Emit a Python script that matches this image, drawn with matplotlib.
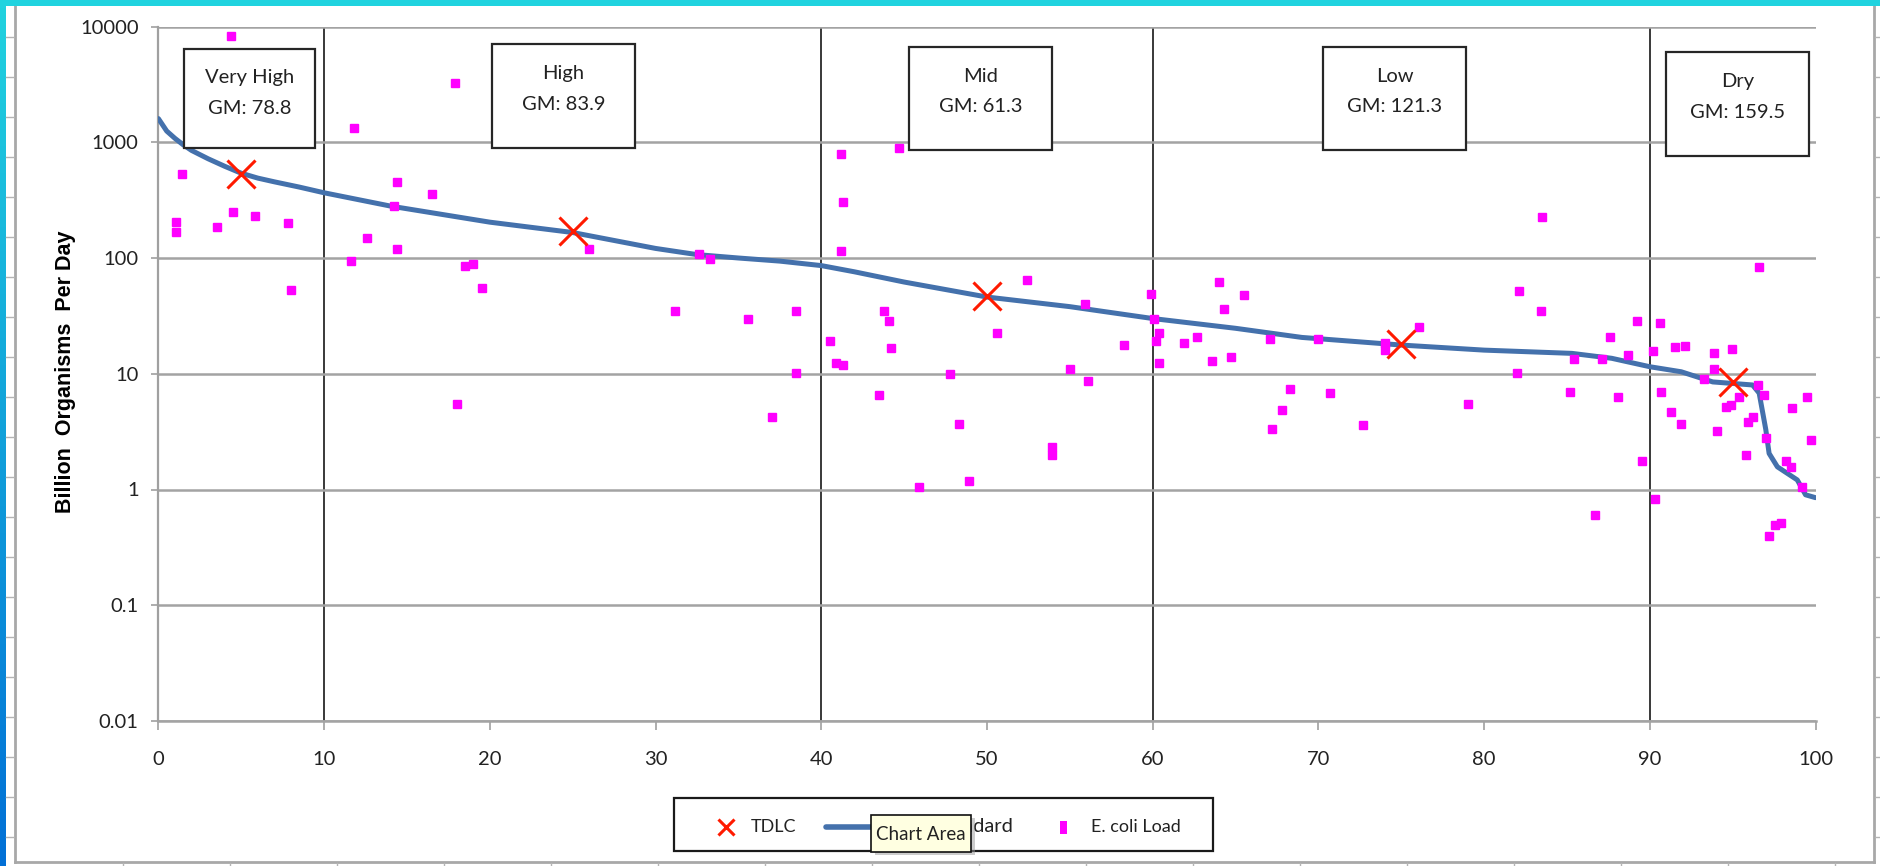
import matplotlib
matplotlib.use("Agg")
import matplotlib.pyplot as plt
import numpy as np
from matplotlib.patches import Rectangle
from matplotlib.lines import Line2D

plt.rcParams['font.family'] = ['Lato', 'DejaVu Sans']

W, H = 1881, 866

# --- values ---
curve_pct = [0, 0.2, 0.5, 1, 1.5, 2, 3, 4, 5, 6, 7, 8.5, 10, 14, 20, 25, 30, 32.5, 35, 37.5,
             40, 42, 45, 50, 55, 60, 65, 69, 75, 80, 85.3, 87.7, 90, 91.9, 93.8, 96.2,
             96.6, 97.0, 97.2, 97.7, 98.9, 99.4, 100]
curve_load = [1600, 1450, 1250, 1080, 950, 850, 720, 620, 540, 490, 455, 410, 366, 281, 204, 166,
              121, 107, 100, 94, 86, 76, 62, 46, 38, 30, 24.7, 20.6, 17.7, 16.0, 15.0, 13.6,
              11.5, 10.4, 8.5, 8.0, 6.8, 3.3, 2.05, 1.57, 1.21, 0.9, 0.85]

tdlc_pct = [5, 25, 50, 75, 95]
tdlc_load = [530, 170, 47, 18, 8.5]

ecoli_pct = [4.4, 1.45, 1.05, 1.05, 3.55, 4.5, 5.8, 7.8, 8.0,
             11.8, 17.9, 14.4, 16.5, 14.2, 12.6, 14.4, 11.6, 26.0, 18.5, 19.0, 19.5, 18.0,
             32.6, 33.3, 31.2, 35.6, 38.5, 38.5, 37.0,
             40.5, 40.9, 41.3, 41.2, 41.3, 41.2, 44.7, 43.8, 44.1, 44.2, 43.5, 47.8, 48.3,
             45.9, 48.9, 52.4, 50.6, 55.9, 58.3, 55.0, 56.1, 53.9, 53.9, 59.9,
             60.1, 60.4, 60.2, 60.4, 61.9, 62.7, 63.6, 64.0, 65.5, 64.3, 64.7, 67.1, 68.3,
             67.8, 67.2, 70.0, 70.7, 72.7, 74.0, 74.0, 76.05, 79.0, 82.1, 83.45, 82.0,
             85.2, 85.4, 86.7, 87.1, 87.6, 88.1, 88.7, 89.2, 89.5, 83.5,
             90.2, 90.6, 90.3, 90.7, 91.3, 91.5, 92.1, 91.9, 93.25, 93.9, 93.9, 94.05,
             94.95, 94.6, 94.9, 95.4, 95.8, 95.9, 96.2, 96.5, 96.9, 96.6, 97.0, 97.2,
             97.55, 97.9, 98.2, 98.5, 98.6, 99.2, 99.5, 99.7]
ecoli_load = [8270, 530, 205, 168, 185, 250, 232, 200, 53,
              1340, 3240, 457, 360, 283, 150, 119, 95, 119, 85, 88, 55, 5.5,
              108, 99, 35, 30, 35, 10.2, 4.2,
              19, 12.3, 11.8, 790, 307, 114, 890, 35, 28.6, 16.8, 6.5, 10, 3.7,
              1.05, 1.18, 64, 22.6, 40, 17.7, 11, 8.7, 2.0, 2.35, 48.6,
              29.7, 22.7, 19.3, 12.3, 18.4, 20.7, 12.9, 62, 48, 36, 14, 20, 7.4,
              4.9, 3.3, 20, 6.8, 3.6, 18.4, 16.1, 25.3, 5.5, 52, 35, 10.1,
              7.0, 13.3, 0.6, 13.3, 20.7, 6.3, 14.5, 28.6, 1.75, 225,
              15.7, 27.5, 0.83, 7.0, 4.7, 16.9, 17.5, 3.7, 9.0, 15, 11, 3.2,
              16.4, 5.2, 5.4, 6.3, 2.0, 3.86, 4.2, 8.0, 6.5, 84, 2.8, 0.40,
              0.49, 0.51, 1.75, 1.57, 5.1, 1.06, 6.3, 2.7]

zone_bounds = [10, 40, 60, 90]
zone_names = ["Very High", "High", "Mid", "Low", "Dry"]
zone_gm = [78.8, 83.9, 61.3, 121.3, 159.5]

y_ticks = [0.01, 0.1, 1, 10, 100, 1000, 10000]
y_tick_labels = ["0.01", "0.1", "1", "10", "100", "1000", "10000"]
x_ticks = list(range(0, 101, 10))

# zone label boxes in screen pixels: left, right, top, bottom
zone_boxes = [(184, 315, 49, 148), (492, 635, 44, 148), (909, 1052, 47, 150),
              (1323, 1466, 47, 150), (1666, 1809, 52, 156)]

RED = '#ff1a00'
BLUE = '#4471ac'
MAGENTA = '#ff00ff'


def fx(x):
    return x / W


def fy(y):
    return 1 - y / H


fig = plt.figure(figsize=(W / 100, H / 100), dpi=100)
fig.patch.set_facecolor('white')

# axes placement
ax_l, ax_r, ax_t, ax_b = 158.4, 1815.5, 26.5, 721
ax = fig.add_axes([fx(ax_l), fy(ax_b), (ax_r - ax_l) / W, (ax_b - ax_t) / H])
ax.set_yscale('log')
ax.set_xlim(0, 100)
ax.set_ylim(0.01, 10000)

ax.grid(axis='y', which='major', color='#a3a3a3', lw=1.8, zorder=0)
ax.grid(axis='x', visible=False)
for b in zone_bounds:
    ax.axvline(b, color='#2a2a2a', lw=1.3, zorder=1)

ax.plot(curve_pct, curve_load, color=BLUE, lw=3.6, zorder=3, solid_capstyle='round')
ax.plot(ecoli_pct, ecoli_load, ls='none', marker='s', ms=6.0, mfc=MAGENTA, mec=MAGENTA,
        zorder=4)
ax.plot(tdlc_pct, tdlc_load, ls='none', marker='x', ms=20, mew=2.2, color=RED, zorder=5)

ax.set_yticks(y_ticks)
ax.set_yticklabels(y_tick_labels)
ax.yaxis.set_minor_locator(matplotlib.ticker.NullLocator())
ax.set_xticks(x_ticks)
ax.tick_params(axis='y', length=4.8, width=1.2, color='#a0a0a0', pad=9.5, labelsize=14.5,
               labelcolor='#222222')
ax.tick_params(axis='x', length=6.5, width=1.2, color='#a0a0a0', pad=15, labelsize=14.5,
               labelcolor='#222222')
for s in ['top', 'right']:
    ax.spines[s].set_visible(False)
ax.spines['left'].set_color('#a0a0a0')
ax.spines['left'].set_linewidth(1.6)
ax.spines['bottom'].set_color('#a3a3a3')
ax.spines['bottom'].set_linewidth(1.8)

fig.text(fx(66), fy(372), 'Billion  Organisms  Per Day', rotation=90, ha='center',
         va='center', fontsize=15.5, fontweight='bold', family='Liberation Sans')

# zone label boxes
for (l, r, t, btm), name, gm in zip(zone_boxes, zone_names, zone_gm):
    fig.patches.append(Rectangle((fx(l), fy(btm)), (r - l) / W, (btm - t) / H,
                                 transform=fig.transFigure, fc='white', ec='#262626',
                                 lw=1.6, zorder=6))
    cx = fx((l + r) / 2)
    fig.text(cx, fy(t + 29), name, ha='center', va='center', fontsize=14.5,
             color='#222222', zorder=7)
    fig.text(cx, fy(t + 60), f'GM: {gm}', ha='center', va='center', fontsize=14.5,
             color='#222222', zorder=7)

# legend (laid out by hand, Excel style)
leg_y = 826.5
fig.patches.append(Rectangle((fx(674.5), fy(851)), 539 / W, 53 / H, transform=fig.transFigure,
                             fc='white', ec='#1a1a1a', lw=1.6, zorder=6))
fig.add_artist(Line2D([fx(725.5)], [fy(leg_y)], ls='none', marker='x', ms=11.5, mew=2.2,
                      color=RED, zorder=7))
fig.text(fx(751), fy(leg_y), 'TDLC', ha='left', va='center', fontsize=13, color='#222222',
         zorder=7)
fig.add_artist(Line2D([fx(826), fx(930)], [fy(leg_y), fy(leg_y)], color=BLUE, lw=4,
                      solid_capstyle='round', zorder=7))
fig.text(fx(1013), fy(leg_y), 'Standard', ha='right', va='center', fontsize=14.5,
         color='#222222', zorder=7)
fig.patches.append(Rectangle((fx(1059.5), fy(833.5)), 7 / W, 13 / H, transform=fig.transFigure,
                             fc=MAGENTA, ec='none', zorder=7))
fig.text(fx(1091), fy(leg_y), 'E. coli Load', ha='left', va='center', fontsize=13,
         color='#222222', zorder=7)

# "Chart Area" tooltip from the screenshot
fig.patches.append(Rectangle((fx(875), fy(855)), 100 / W, 36.6 / H,
                             transform=fig.transFigure, fc='#9a9a9a', ec='none',
                             alpha=0.5, zorder=8))
fig.patches.append(Rectangle((fx(871), fy(851.6)), 100 / W, 36.6 / H,
                             transform=fig.transFigure, fc='#ffffe1', ec='#111111',
                             lw=1.2, zorder=9))
fig.text(fx(921), fy(834), 'Chart Area', ha='center', va='center', fontsize=13.5,
         color='#222222', zorder=10)

# screenshot surroundings: window edge and worksheet cell borders
fig.patches.append(Rectangle((0, fy(5.5)), 1, 5.5 / H, transform=fig.transFigure,
                             fc='#20d3df', ec='none', zorder=11))
grad = fig.add_axes([0, 0, 6 / W, 1 - 5.5 / H])
grad.imshow(np.linspace(0, 1, 256).reshape(-1, 1), aspect='auto',
            cmap=matplotlib.colors.LinearSegmentedColormap.from_list('edge', ['#21d2df', '#0270d6']))
grad.axis('off')

cell_gray = '#b4b4b4'
fig.add_artist(Line2D([fx(15), fx(15)], [fy(5.5), fy(862)], color='#a8a8a8', lw=2))
fig.add_artist(Line2D([fx(1874), fx(1874)], [fy(5.5), fy(862)], color='#a8a8a8', lw=2))
fig.add_artist(Line2D([fx(15), fx(1874)], [fy(862), fy(862)], color='#a8a8a8', lw=2))
for yy in range(37, 860, 40):
    fig.add_artist(Line2D([fx(6), fx(14)], [fy(yy), fy(yy)], color=cell_gray, lw=1))
    fig.add_artist(Line2D([fx(1875), fx(1881)], [fy(yy), fy(yy)], color=cell_gray, lw=1))
for xx in range(123, 1870, 107):
    fig.add_artist(Line2D([fx(xx), fx(xx)], [fy(863), fy(866)], color=cell_gray, lw=1))

fig.savefig('out.png', dpi=100, facecolor='white')
